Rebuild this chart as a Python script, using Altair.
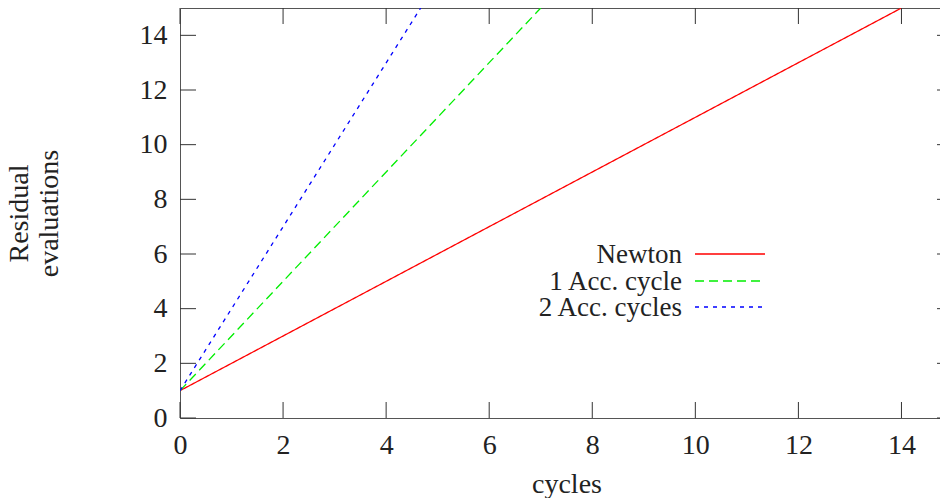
import altair as alt
import pandas as pd

# ---- data ----
series = ["Newton", "1 Acc. cycle", "2 Acc. cycles"]
colors = ["#ff0000", "#00ee00", "#0000ff"]
dashes = [[1, 0], [9, 5], [4, 5]]
x_start = [0, 0, 0]
y_start = [1, 1, 1]
x_end = [14, 7, 4.67]
y_end = [15, 15, 15]
x_ticks = [0, 2, 4, 6, 8, 10, 12, 14]
y_ticks = [0, 2, 4, 6, 8, 10, 12, 14]
x_domain = [0, 15]
y_domain = [0, 15]

rows = []
for s, x0, y0, x1, y1 in zip(series, x_start, y_start, x_end, y_end):
    rows.append({"series": s, "x": x0, "y": y0})
    rows.append({"series": s, "x": x1, "y": y1})
df = pd.DataFrame(rows)

W, H = 773, 410
FONT = "Liberation Serif, DejaVu Serif, serif"
FS = 28
LFS = 27
TXT = "#222222"
TICK = "#333333"
TL = 16

xs = alt.Scale(domain=x_domain, nice=False, zero=False)
ys = alt.Scale(domain=y_domain, nice=False, zero=False)
x_axis = alt.Axis(values=x_ticks, title="cycles", tickSize=0, domain=False,
                  grid=False, labelPadding=13, titlePadding=11, format="d",
                  labelFlush=False)
y_axis = alt.Axis(values=y_ticks, title=["Residual", "evaluations"], tickSize=0,
                  domain=False, grid=False, labelPadding=13, titlePadding=76,
                  format="d", labelFlush=False)

lines = alt.Chart(df).mark_line(strokeWidth=1.3, clip=True).encode(
    x=alt.X("x:Q", scale=xs, axis=x_axis, title="cycles"),
    y=alt.Y("y:Q", scale=ys, axis=y_axis, title=["Residual", "evaluations"]),
    color=alt.Color("series:N", scale=alt.Scale(domain=series, range=colors), legend=None),
    strokeDash=alt.StrokeDash("series:N", scale=alt.Scale(domain=series, range=dashes),
                              legend=None),
)

xt = pd.DataFrame({"x": x_ticks})
yt = pd.DataFrame({"y": y_ticks})

bottom_ticks = alt.Chart(xt).mark_rule(color=TICK, strokeWidth=1).encode(
    x=alt.X("x:Q", scale=xs, axis=x_axis, title="cycles"),
    y=alt.value(H), y2=alt.value(H - TL))
top_ticks = alt.Chart(xt).mark_rule(color=TICK, strokeWidth=1).encode(
    x=alt.X("x:Q", scale=xs, axis=x_axis, title="cycles"),
    y=alt.value(0), y2=alt.value(TL))
left_ticks = alt.Chart(yt).mark_rule(color=TICK, strokeWidth=1).encode(
    y=alt.Y("y:Q", scale=ys, axis=y_axis, title=["Residual", "evaluations"]),
    x=alt.value(0), x2=alt.value(TL))
right_ticks = alt.Chart(yt).mark_rule(color=TICK, strokeWidth=1).encode(
    y=alt.Y("y:Q", scale=ys, axis=y_axis, title=["Residual", "evaluations"]),
    x=alt.value(W), x2=alt.value(W - TL))

legend_layers = []
row_y = [246, 273, 299]
for s, c, d, ry in zip(series, colors, dashes, row_y):
    ldf = pd.DataFrame({"series": [s]})
    legend_layers.append(
        alt.Chart(ldf).mark_text(align="right", baseline="middle", font=FONT,
                                 fontSize=LFS, color=TXT).encode(
            text="series:N", x=alt.value(502), y=alt.value(ry + 1)))
    legend_layers.append(
        alt.Chart(ldf).mark_rule(color=c, strokeDash=d, strokeWidth=1.3).encode(
            x=alt.value(515), x2=alt.value(585), y=alt.value(ry)))

chart = alt.layer(lines, bottom_ticks, top_ticks, left_ticks, right_ticks,
                  *legend_layers).properties(
    width=W, height=H,
    autosize=alt.AutoSizeParams(type="none"),
    padding={"left": 172, "top": 0, "right": -13, "bottom": 80},
    background="white",
).configure_view(
    stroke="#555555", strokeWidth=1
).configure_axis(
    labelFont=FONT, labelFontSize=FS, labelColor=TXT,
    titleFont=FONT, titleFontSize=FS, titleColor=TXT, titleFontWeight="normal",
)

chart.save("out.html", embed_options={"renderer": "svg", "actions": False})
